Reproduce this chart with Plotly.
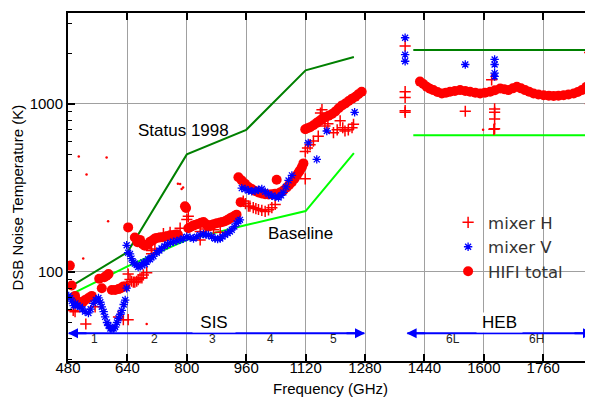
import plotly.graph_objects as go

# ---------------- data ----------------
x_ticks = [480, 640, 800, 960, 1120, 1280, 1440, 1600, 1760]
y_major = [100, 1000]
y_minor = [30, 40, 50, 60, 70, 80, 90, 200, 300, 400, 500, 600, 700, 800, 900, 2000, 3000]

status_f = [480, 640, 800, 960, 1120, 1250]
status_t = [80, 131, 500, 700, 1580, 1900]
status_heb_f = [1410, 1894]
status_heb_t = [2090, 2090]

base_f = [480, 640, 800, 960, 1120, 1250]
base_t = [72, 108, 155, 190, 230, 508]
base_heb_f = [1410, 1894]
base_heb_t = [650, 650]

total_f = [485, 490, 499, 506, 512, 520, 526, 535, 544, 564, 571, 578, 584, 589, 598, 607, 616, 622, 629, 634,
           642, 660, 667, 674, 681, 687, 694, 701, 708, 714, 719, 727, 734, 741, 748, 755, 764, 770, 776, 795, 798,
           804, 810, 816, 822, 830, 838, 845, 852, 858, 865, 872, 881, 890, 896, 903, 910, 916, 921, 928, 934,
           939, 945, 948, 957, 966, 975, 984, 993, 1002, 1011, 1020, 1029, 1038, 1042, 1051, 1060, 1069, 1076,
           1083, 1090, 1096, 1101, 1105, 1110, 1114,
           1119, 1125, 1132, 1141, 1150, 1157, 1164, 1172, 1182, 1191, 1200, 1209, 1218, 1227, 1236, 1245, 1254,
           1262, 1271,
           1428, 1437, 1446, 1455, 1464, 1475, 1487, 1498, 1509, 1522, 1536, 1550, 1563, 1577, 1590, 1603, 1617,
           1630, 1644, 1655, 1666, 1678, 1689, 1700, 1711, 1722, 1734, 1747, 1761, 1775, 1788, 1801, 1815, 1828,
           1842, 1853, 1864, 1876, 1887]
total_t = [109, 83, 72, 67, 65, 66, 68, 70, 72, 91, 80, 93, 95, 97, 78, 78, 79, 80, 82, 82,
           184, 160, 150, 155, 146, 143, 145, 151, 154, 158, 159, 160, 161, 162, 163, 165, 166, 167, 167, 246, 240,
           182, 185, 188, 190, 193, 196, 198, 192, 186, 190, 192, 195, 197, 198, 200, 204, 208, 211, 215, 219,
           366, 260, 350, 334, 320, 311, 303, 297, 293, 290, 289, 290, 292, 353, 297, 305, 318, 330,
           342, 358, 375, 390, 402, 420, 442,
           705, 715, 725, 745, 770, 790, 811, 830, 850, 869, 900, 940, 978, 1005, 1040, 1073, 1100,
           1140, 1178,
           1355, 1310, 1264, 1230, 1206, 1175, 1150, 1165, 1178, 1190, 1206, 1190, 1178, 1165, 1150, 1165, 1178,
           1205, 1234, 1220, 1206, 1235, 1264, 1235, 1206, 1178, 1150, 1135, 1124, 1118, 1114, 1118, 1124, 1135,
           1150, 1175, 1206, 1260, 1323]

mixv_f = [482, 486, 490, 495, 500, 506, 512, 519, 526, 535, 541, 548, 555, 562, 567, 571, 576, 580, 585, 589,
          594, 598, 603, 607, 612, 616, 621, 625, 630, 634, 638, 638, 642,
          647, 651, 656, 660, 665, 669, 674, 679, 683, 687, 692, 696, 701, 705, 710, 719, 726, 732, 740, 748,
          756, 764, 773, 782, 791, 800,
          809, 818, 827, 836, 845, 852, 858, 867, 876, 883, 890, 896, 903, 910, 916, 921, 928, 934, 939, 943,
          948, 957, 966, 975, 984, 993, 1002, 1011, 1020, 1029, 1038, 1047, 1054, 1060, 1067, 1074, 1083,
          1127, 1150, 1177, 1252,
          1388, 1388, 1388, 1550, 1629, 1629, 1629, 1629, 1884, 1884]
mixv_t = [72, 70, 67, 63, 65, 63, 62, 60, 58, 57, 60, 65, 68, 70, 66, 62, 58, 54, 50, 48,
          46, 46, 46, 47, 50, 53, 56, 59, 64, 68, 80, 144, 130,
          128, 120, 114, 112, 110, 107, 108, 110, 114, 111, 115, 119, 119, 122, 124, 130, 134, 138, 142, 146,
          149, 151, 153, 155, 158, 162,
          160, 158, 162, 166, 168, 166, 166, 162, 158, 157, 158, 162, 166, 170, 174, 178, 186, 195, 200, 204,
          315, 311, 305, 302, 304, 308, 311, 300, 290, 284, 280, 277, 285, 297, 320, 350, 375,
          585, 467, 689, 890,
          2470, 1960, 1790, 1713, 1836, 1713, 1522, 1454, 1886, 1793]

mixh_f = [494, 499, 528, 553, 616, 629, 642,
          642, 647, 651, 656, 660, 665, 669, 674, 679, 683, 692, 705, 705, 714, 737, 755, 782, 800, 804,
          836, 836, 850, 872, 890,
          952, 958, 966, 970, 979, 986, 993, 1002, 1011, 1020, 1029, 1038,
          1119, 1119, 1125, 1132, 1141, 1154, 1160, 1164, 1172, 1180, 1195, 1205, 1213, 1220, 1226, 1235, 1245, 1249,
          1388, 1388, 1388, 1388, 1388, 1550, 1621, 1629, 1629, 1629, 1629, 1627, 1885, 1887, 1889]
mixh_t = [59, 58, 49, 62, 54, 52, 52,
          97, 90, 88, 87, 87, 88, 90, 92, 92, 96, 99, 134, 128, 137, 169, 172, 182, 205, 214,
          174, 155, 180, 178, 172,
          264, 255, 246, 246, 241, 238, 235, 232, 229, 234, 241, 252,
          358, 520, 545, 571, 600, 642, 880, 923, 738, 760, 673, 700, 792, 720, 689, 700, 721, 755,
          2210, 1180, 1090, 910, 890, 903, 1388, 932, 890, 811, 711, 705, 2016, 1000, 978]

dots_f = [509, 584, 530, 521, 588, 692, 776, 786, 782, 790, 1598]
dots_t = [485, 479, 380, 120, 200, 49, 334, 311, 333, 318, 700]

band_labels = ["1", "2", "3", "4", "5", "6L", "6H"]
band_centers = [551, 714, 868, 1026, 1196, 1517, 1742]

# ---------------- figure ----------------
RED = "#ff0000"
BLUE = "#0000ff"
DKGREEN = "#008000"
LTGREEN = "#00ff00"

fig = go.Figure()

for f, t, c in [(status_f, status_t, DKGREEN), (status_heb_f, status_heb_t, DKGREEN),
                (base_f, base_t, LTGREEN), (base_heb_f, base_heb_t, LTGREEN)]:
    fig.add_trace(go.Scatter(x=f, y=t, mode="lines", line=dict(color=c, width=2),
                             showlegend=False, hoverinfo="skip"))

fig.add_trace(go.Scatter(x=dots_f, y=dots_t, mode="markers", showlegend=False,
                         marker=dict(symbol="circle", size=2.5, color=RED)))

fig.add_trace(go.Scatter(x=total_f, y=total_t, mode="markers", name="HIFI total",
                         legendgroup="c", legendrank=3,
                         marker=dict(symbol="circle", size=10, color=RED)))
fig.add_trace(go.Scatter(x=mixh_f, y=mixh_t, mode="markers", name="mixer H",
                         legendgroup="a", legendrank=1,
                         marker=dict(symbol="cross-thin-open", size=8, color=RED,
                                     line=dict(color=RED, width=1.5))))
fig.add_trace(go.Scatter(x=mixv_f, y=mixv_t, mode="markers", name="mixer V",
                         legendgroup="b", legendrank=2,
                         marker=dict(symbol="asterisk-open", size=7, color=BLUE,
                                     line=dict(color=BLUE, width=1.3))))

FONT = "Arial, Liberation Sans, sans-serif"
ARROW_Y = 0.0794
LABEL_Y = 0.038

shapes = [
    dict(type="line", xref="x", yref="paper", x0=482, x1=1278, y0=ARROW_Y, y1=ARROW_Y,
         line=dict(color=BLUE, width=2)),
    dict(type="line", xref="x", yref="paper", x0=1394, x1=1892, y0=ARROW_Y, y1=ARROW_Y,
         line=dict(color=BLUE, width=2)),
]

annotations = [
    dict(x=792, y=0.694, xref="x", yref="paper", text="Status 1998", showarrow=False,
         font=dict(size=17, color="black", family=FONT)),
    dict(x=1105, y=0.365, xref="x", yref="paper", text="Baseline", showarrow=False,
         font=dict(size=17, color="black", family=FONT)),
    dict(x=873, y=ARROW_Y, xref="x", yref="paper", text="SIS", showarrow=False, bgcolor="white",
         borderpad=0, font=dict(size=17, color="black", family=FONT), width=42),
    dict(x=1641, y=ARROW_Y, xref="x", yref="paper", text="HEB", showarrow=False, bgcolor="white",
         borderpad=0, font=dict(size=17, color="black", family=FONT), width=45),
    # y-axis title (placed as rotated text to match the reference's vertical offset)
    dict(x=-0.0971, y=0.47, xref="paper", yref="paper", xanchor="center", yanchor="middle",
         text="DSB Noise Temperature (K)", textangle=-90, showarrow=False,
         font=dict(size=15, color="black", family=FONT)),
]
# arrow heads
for xt, dx in [(480, 20), (1280, -20), (1392, 20), (1894, -20)]:
    annotations.append(dict(x=xt, y=ARROW_Y, xref="x", yref="paper", ax=dx, ay=0, text="",
                            showarrow=True, arrowhead=2, arrowsize=1, arrowwidth=2,
                            arrowcolor=BLUE, standoff=0))
for lab, xc in zip(band_labels, band_centers):
    annotations.append(dict(x=xc, y=LABEL_Y, xref="x", yref="paper", text=lab, showarrow=False,
                            font=dict(size=12, color="#222222", family=FONT)))

# the page adds an 8 px body margin, so the figure is 8 px smaller and the margins shifted
fig.update_layout(
    width=585, height=389,
    margin=dict(l=60, r=0, t=5, b=36),
    paper_bgcolor="white", plot_bgcolor="white",
    font=dict(family=FONT, size=15, color="black"),
    shapes=shapes,
    annotations=annotations,
    showlegend=True,
    legend=dict(x=0.724, y=0.448, xanchor="left", yanchor="top",
                bgcolor="rgba(0,0,0,0)", traceorder="grouped", tracegroupgap=0,
                font=dict(family="DejaVu Sans, sans-serif", size=16.5, color="#333333")),
)

fig.update_xaxes(
    range=[480, 1894], tickmode="array", tickvals=x_ticks,
    ticks="inside", ticklen=7, tickwidth=2, tickcolor="black",
    showline=True, linewidth=2, linecolor="black", mirror="ticks",
    showgrid=True, gridcolor="#a0a0a0", gridwidth=1, zeroline=False,
    tickfont=dict(size=15, family=FONT), automargin=False, ticklabelstandoff=-8,
    title=dict(text="Frequency (GHz)", font=dict(size=15, family=FONT), standoff=11),
)
fig.update_yaxes(
    type="log", range=[1.47, 3.54], tickmode="array", tickvals=y_major,
    ticktext=[str(v) for v in y_major],
    ticks="inside", ticklen=7, tickwidth=2, tickcolor="black",
    showline=True, linewidth=2, linecolor="black", mirror="ticks",
    showgrid=True, gridcolor="#a0a0a0", gridwidth=1, zeroline=False,
    tickfont=dict(size=15, family=FONT), automargin=False,
    minor=dict(tickmode="array", tickvals=y_minor, ticks="inside", ticklen=4,
               tickwidth=1, tickcolor="black", showgrid=False),
)

fig.write_html("out.html")
